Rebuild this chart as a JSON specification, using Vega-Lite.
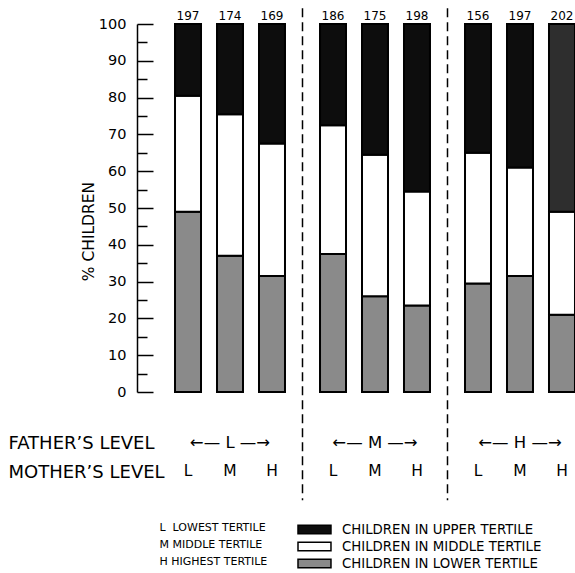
{
  "$schema": "https://vega.github.io/schema/vega-lite/v6.json",
  "width": 438,
  "height": 368,
  "autosize": {"type": "none"},
  "padding": {"left": 137, "top": 24, "right": 0, "bottom": 181},
  "background": "white",
  "config": {"view": {"stroke": null}, "font": "DejaVu Sans", "axis": {"grid": false}, "text": {"color": "black"}},
  "datasets": {
    "pct": [
      {"father": "L", "mother": "L", "tertile": "CHILDREN IN LOWER TERTILE", "pct": 49},
      {"father": "L", "mother": "L", "tertile": "CHILDREN IN MIDDLE TERTILE", "pct": 31.5},
      {"father": "L", "mother": "L", "tertile": "CHILDREN IN UPPER TERTILE", "pct": 19.5},
      {"father": "L", "mother": "M", "tertile": "CHILDREN IN LOWER TERTILE", "pct": 37},
      {"father": "L", "mother": "M", "tertile": "CHILDREN IN MIDDLE TERTILE", "pct": 38.5},
      {"father": "L", "mother": "M", "tertile": "CHILDREN IN UPPER TERTILE", "pct": 24.5},
      {"father": "L", "mother": "H", "tertile": "CHILDREN IN LOWER TERTILE", "pct": 31.5},
      {"father": "L", "mother": "H", "tertile": "CHILDREN IN MIDDLE TERTILE", "pct": 36},
      {"father": "L", "mother": "H", "tertile": "CHILDREN IN UPPER TERTILE", "pct": 32.5},
      {"father": "M", "mother": "L", "tertile": "CHILDREN IN LOWER TERTILE", "pct": 37.5},
      {"father": "M", "mother": "L", "tertile": "CHILDREN IN MIDDLE TERTILE", "pct": 35},
      {"father": "M", "mother": "L", "tertile": "CHILDREN IN UPPER TERTILE", "pct": 27.5},
      {"father": "M", "mother": "M", "tertile": "CHILDREN IN LOWER TERTILE", "pct": 26},
      {"father": "M", "mother": "M", "tertile": "CHILDREN IN MIDDLE TERTILE", "pct": 38.5},
      {"father": "M", "mother": "M", "tertile": "CHILDREN IN UPPER TERTILE", "pct": 35.5},
      {"father": "M", "mother": "H", "tertile": "CHILDREN IN LOWER TERTILE", "pct": 23.5},
      {"father": "M", "mother": "H", "tertile": "CHILDREN IN MIDDLE TERTILE", "pct": 31},
      {"father": "M", "mother": "H", "tertile": "CHILDREN IN UPPER TERTILE", "pct": 45.5},
      {"father": "H", "mother": "L", "tertile": "CHILDREN IN LOWER TERTILE", "pct": 29.5},
      {"father": "H", "mother": "L", "tertile": "CHILDREN IN MIDDLE TERTILE", "pct": 35.5},
      {"father": "H", "mother": "L", "tertile": "CHILDREN IN UPPER TERTILE", "pct": 35},
      {"father": "H", "mother": "M", "tertile": "CHILDREN IN LOWER TERTILE", "pct": 31.5},
      {"father": "H", "mother": "M", "tertile": "CHILDREN IN MIDDLE TERTILE", "pct": 29.5},
      {"father": "H", "mother": "M", "tertile": "CHILDREN IN UPPER TERTILE", "pct": 39},
      {"father": "H", "mother": "H", "tertile": "CHILDREN IN LOWER TERTILE", "pct": 21},
      {"father": "H", "mother": "H", "tertile": "CHILDREN IN MIDDLE TERTILE", "pct": 28},
      {"father": "H", "mother": "H", "tertile": "CHILDREN IN UPPER TERTILE", "pct": 51}
    ],
    "counts": [
      {"father": "L", "mother": "L", "n": 197},
      {"father": "L", "mother": "M", "n": 174},
      {"father": "L", "mother": "H", "n": 169},
      {"father": "M", "mother": "L", "n": 186},
      {"father": "M", "mother": "M", "n": 175},
      {"father": "M", "mother": "H", "n": 198},
      {"father": "H", "mother": "L", "n": 156},
      {"father": "H", "mother": "M", "n": 197},
      {"father": "H", "mother": "H", "n": 202}
    ],
    "dividers": [{"father": "M"}, {"father": "H"}],
    "key": [{"father": "L"}]
  },
  "layer": [
    {
      "data": {"name": "pct"},
      "mark": {"type": "bar", "stroke": "black", "strokeWidth": 2},
      "encoding": {
        "x": {
          "field": "father", "type": "nominal",
          "scale": {"domain": ["L", "M", "H"], "range": [0, 476], "paddingInner": 0, "paddingOuter": 0.1414},
          "axis": {"orient": "bottom", "ticks": false, "domain": false, "labelAngle": 0, "labelAlign": "center", "bandPosition": 0.5, "labelPadding": 42, "labelFontSize": 16.5, "labelColor": "black", "labelExpr": "'←— ' + datum.label + ' —→'", "title": ["FATHER’S LEVEL", "MOTHER’S LEVEL"], "titleX": -129, "titleY": 56, "titleAlign": "left", "titleBaseline": "alphabetic", "titleAngle": 0, "titleLineHeight": 29, "titleFontSize": 18, "titleFontWeight": "normal", "titleColor": "black"}
        },
        "xOffset": {"field": "mother", "type": "nominal", "scale": {"domain": ["L", "M", "H"], "paddingInner": 0.381, "paddingOuter": 0.417}},
        "y": {
          "field": "pct", "type": "quantitative", "stack": "zero",
          "scale": {"domain": [0, 100], "nice": false},
          "axis": {"ticks": true, "values": [0, 5, 10, 15, 20, 25, 30, 35, 40, 45, 50, 55, 60, 65, 70, 75, 80, 85, 90, 95, 100], "labelExpr": "datum.value % 10 === 0 ? datum.label : ''", "labelOverlap": false, "tickSize": -16, "labelPadding": 27, "labelFontSize": 14.5, "labelColor": "black", "domainColor": "black", "domainWidth": 1.5, "tickColor": "black", "tickWidth": 1.5, "tickOpacity": 1, "tickDash": {"condition": {"test": "datum.value % 10 !== 0", "value": [10, 30]}, "value": [40, 0]}, "title": "% CHILDREN", "titleX": -49, "titleY": 207, "titleAngle": 270, "titleAlign": "center", "titleBaseline": "middle", "titleFontSize": 15.5, "titleFontWeight": "normal", "titleColor": "black"}
        },
        "color": {
          "field": "tertile", "type": "nominal",
          "condition": {"test": "datum.father === 'H' && datum.mother === 'H' && datum.tertile === 'CHILDREN IN UPPER TERTILE'", "value": "#2e2e2e"},
          "scale": {"domain": ["CHILDREN IN UPPER TERTILE", "CHILDREN IN MIDDLE TERTILE", "CHILDREN IN LOWER TERTILE"], "range": ["#0d0d0d", "#ffffff", "#8a8a8a"]},
          "legend": {"title": null, "orient": "none", "legendX": 160, "legendY": 496, "symbolType": "M-1,-0.5H2.88V0.5H-1Z", "symbolSize": 289, "symbolStrokeColor": "black", "symbolStrokeWidth": 1.5, "labelFontSize": 13.3, "labelOffset": 26, "rowPadding": 0, "labelLimit": 0, "labelColor": "black"}
        },
        "order": {"field": "tertile", "type": "nominal", "sort": "ascending"}
      }
    },
    {
      "data": {"name": "dividers"},
      "mark": {"type": "rule", "strokeDash": [9, 5], "strokeWidth": 1.5, "color": "black"},
      "encoding": {
        "x": {"field": "father", "type": "nominal", "bandPosition": 0, "scale": {"domain": ["L", "M", "H"]},
          "axis": {"orient": "bottom", "ticks": false, "domain": false, "labelAngle": 0, "labelAlign": "center", "bandPosition": 0.5, "labelPadding": 42, "labelFontSize": 16.5, "labelColor": "black", "labelExpr": "'←— ' + datum.label + ' —→'", "title": ["FATHER’S LEVEL", "MOTHER’S LEVEL"], "titleX": -129, "titleY": 56, "titleAlign": "left", "titleBaseline": "alphabetic", "titleAngle": 0, "titleLineHeight": 29, "titleFontSize": 18, "titleFontWeight": "normal", "titleColor": "black"}},
        "y": {"datum": 104.3, "type": "quantitative",
          "axis": {"ticks": true, "values": [0, 5, 10, 15, 20, 25, 30, 35, 40, 45, 50, 55, 60, 65, 70, 75, 80, 85, 90, 95, 100], "labelExpr": "datum.value % 10 === 0 ? datum.label : ''", "labelOverlap": false, "tickSize": -16, "labelPadding": 27, "labelFontSize": 14.5, "labelColor": "black", "domainColor": "black", "domainWidth": 1.5, "tickColor": "black", "tickWidth": 1.5, "tickOpacity": 1, "tickDash": {"condition": {"test": "datum.value % 10 !== 0", "value": [10, 30]}, "value": [40, 0]}, "title": "% CHILDREN", "titleX": -49, "titleY": 207, "titleAngle": 270, "titleAlign": "center", "titleBaseline": "middle", "titleFontSize": 15.5, "titleFontWeight": "normal", "titleColor": "black"}},
        "y2": {"datum": -29.4}
      }
    },
    {
      "data": {"name": "counts"},
      "mark": {"type": "text", "fontSize": 12, "dy": -4, "baseline": "alphabetic"},
      "encoding": {
        "x": {"field": "father", "type": "nominal", "scale": {"domain": ["L", "M", "H"]},
          "axis": {"orient": "bottom", "ticks": false, "domain": false, "labelAngle": 0, "labelAlign": "center", "bandPosition": 0.5, "labelPadding": 42, "labelFontSize": 16.5, "labelColor": "black", "labelExpr": "'←— ' + datum.label + ' —→'", "title": ["FATHER’S LEVEL", "MOTHER’S LEVEL"], "titleX": -129, "titleY": 56, "titleAlign": "left", "titleBaseline": "alphabetic", "titleAngle": 0, "titleLineHeight": 29, "titleFontSize": 18, "titleFontWeight": "normal", "titleColor": "black"}},
        "xOffset": {"field": "mother", "type": "nominal", "scale": {"domain": ["L", "M", "H"]}},
        "y": {"datum": 100, "type": "quantitative",
          "axis": {"ticks": true, "values": [0, 5, 10, 15, 20, 25, 30, 35, 40, 45, 50, 55, 60, 65, 70, 75, 80, 85, 90, 95, 100], "labelExpr": "datum.value % 10 === 0 ? datum.label : ''", "labelOverlap": false, "tickSize": -16, "labelPadding": 27, "labelFontSize": 14.5, "labelColor": "black", "domainColor": "black", "domainWidth": 1.5, "tickColor": "black", "tickWidth": 1.5, "tickOpacity": 1, "tickDash": {"condition": {"test": "datum.value % 10 !== 0", "value": [10, 30]}, "value": [40, 0]}, "title": "% CHILDREN", "titleX": -49, "titleY": 207, "titleAngle": 270, "titleAlign": "center", "titleBaseline": "middle", "titleFontSize": 15.5, "titleFontWeight": "normal", "titleColor": "black"}},
        "text": {"field": "n", "type": "quantitative"}
      }
    },
    {
      "data": {"name": "counts"},
      "mark": {"type": "text", "fontSize": 15.5, "baseline": "middle"},
      "encoding": {
        "x": {"field": "father", "type": "nominal", "scale": {"domain": ["L", "M", "H"]},
          "axis": {"orient": "bottom", "ticks": false, "domain": false, "labelAngle": 0, "labelAlign": "center", "bandPosition": 0.5, "labelPadding": 42, "labelFontSize": 16.5, "labelColor": "black", "labelExpr": "'←— ' + datum.label + ' —→'", "title": ["FATHER’S LEVEL", "MOTHER’S LEVEL"], "titleX": -129, "titleY": 56, "titleAlign": "left", "titleBaseline": "alphabetic", "titleAngle": 0, "titleLineHeight": 29, "titleFontSize": 18, "titleFontWeight": "normal", "titleColor": "black"}},
        "xOffset": {"field": "mother", "type": "nominal", "scale": {"domain": ["L", "M", "H"]}},
        "y": {"datum": -21.47, "type": "quantitative",
          "axis": {"ticks": true, "values": [0, 5, 10, 15, 20, 25, 30, 35, 40, 45, 50, 55, 60, 65, 70, 75, 80, 85, 90, 95, 100], "labelExpr": "datum.value % 10 === 0 ? datum.label : ''", "labelOverlap": false, "tickSize": -16, "labelPadding": 27, "labelFontSize": 14.5, "labelColor": "black", "domainColor": "black", "domainWidth": 1.5, "tickColor": "black", "tickWidth": 1.5, "tickOpacity": 1, "tickDash": {"condition": {"test": "datum.value % 10 !== 0", "value": [10, 30]}, "value": [40, 0]}, "title": "% CHILDREN", "titleX": -49, "titleY": 207, "titleAngle": 270, "titleAlign": "center", "titleBaseline": "middle", "titleFontSize": 15.5, "titleFontWeight": "normal", "titleColor": "black"}},
        "text": {"field": "mother", "type": "nominal"}
      }
    },
    {
      "data": {"name": "key"},
      "mark": {"type": "text", "fontSize": 11, "align": "left", "baseline": "middle", "lineHeight": 17, "dx": 2},
      "encoding": {
        "x": {"field": "father", "type": "nominal", "bandPosition": 0, "scale": {"domain": ["L", "M", "H"]},
          "axis": {"orient": "bottom", "ticks": false, "domain": false, "labelAngle": 0, "labelAlign": "center", "bandPosition": 0.5, "labelPadding": 42, "labelFontSize": 16.5, "labelColor": "black", "labelExpr": "'←— ' + datum.label + ' —→'", "title": ["FATHER’S LEVEL", "MOTHER’S LEVEL"], "titleX": -129, "titleY": 56, "titleAlign": "left", "titleBaseline": "alphabetic", "titleAngle": 0, "titleLineHeight": 29, "titleFontSize": 18, "titleFontWeight": "normal", "titleColor": "black"}},
        "y": {"datum": -36.96, "type": "quantitative",
          "axis": {"ticks": true, "values": [0, 5, 10, 15, 20, 25, 30, 35, 40, 45, 50, 55, 60, 65, 70, 75, 80, 85, 90, 95, 100], "labelExpr": "datum.value % 10 === 0 ? datum.label : ''", "labelOverlap": false, "tickSize": -16, "labelPadding": 27, "labelFontSize": 14.5, "labelColor": "black", "domainColor": "black", "domainWidth": 1.5, "tickColor": "black", "tickWidth": 1.5, "tickOpacity": 1, "tickDash": {"condition": {"test": "datum.value % 10 !== 0", "value": [10, 30]}, "value": [40, 0]}, "title": "% CHILDREN", "titleX": -49, "titleY": 207, "titleAngle": 270, "titleAlign": "center", "titleBaseline": "middle", "titleFontSize": 15.5, "titleFontWeight": "normal", "titleColor": "black"}},
        "text": {"value": ["L\u00a0 LOWEST TERTILE", "M MIDDLE TERTILE", "H HIGHEST TERTILE"]}
      }
    }
  ]
}
